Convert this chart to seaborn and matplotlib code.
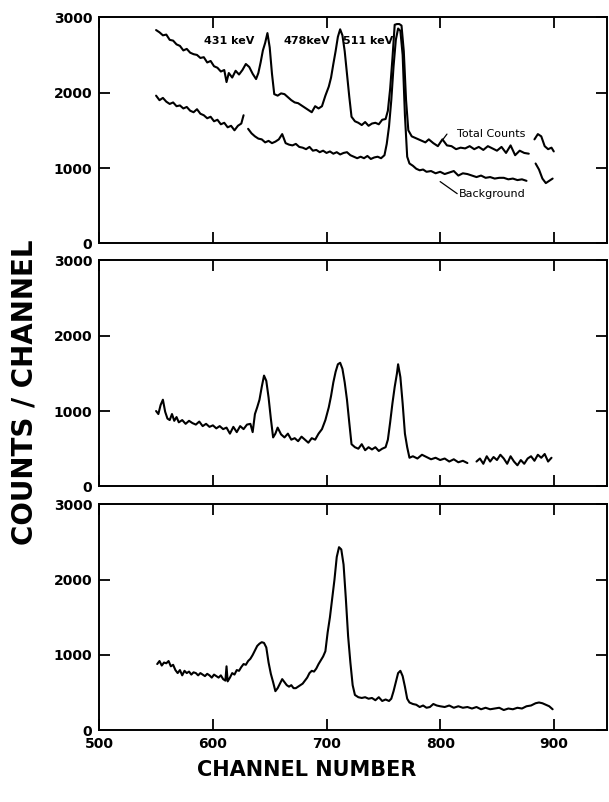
import numpy as np
import pandas as pd
import matplotlib
matplotlib.use("Agg")
import matplotlib.pyplot as plt
import seaborn as sns

NAN = np.nan

# ---- Panel 1: total counts ----
total_ch = [550, 553, 556, 559, 562, 565, 568, 571, 574, 577, 580, 583, 586, 589, 592, 595, 598, 601, 604, 607,
            610, 612, 614, 617, 620, 623, 626, 629, 632, 635, 638, 640, 642, 644, 646, 648, 650, 652, 654, 657,
            660, 663, 666, 669, 672, 675, 678, 681, 684, 687, 690, 693, 696, 699, 702, 704, 706, 708, 710, 712,
            714, 716, 718, 720, 722, 725, 728, 731, 734, 737, 740, 743, 746, 749, 752, 754, 756, 758, 760, 762,
            764, 766, 768, 770, 772, 775, 778, 781, 784, 787, 790, 794, 798, 802, 806, 810, 814, 818, 822, 826,
            830, 834, 838, 842, 846, 850, 854, 858, 862, 866, 870, 874, 878, 880, 883, 886, 889, 892, 895, 898, 900]
total_counts = [2830, 2800, 2760, 2770, 2700, 2690, 2640, 2620, 2560, 2580, 2530, 2510, 2500, 2460, 2470, 2400, 2420, 2350, 2330, 2280,
                2300, 2140, 2260, 2200, 2290, 2240, 2300, 2380, 2340, 2250, 2180, 2260, 2400, 2560, 2660, 2790, 2600, 2250, 1980, 1960,
                1990, 1980, 1940, 1900, 1870, 1860, 1830, 1800, 1770, 1740, 1820, 1790, 1820, 1960, 2080, 2200, 2380, 2550, 2740, 2840,
                2760, 2550, 2250, 1950, 1680, 1620, 1600, 1570, 1610, 1560, 1590, 1600, 1580, 1640, 1650, 1760, 2050, 2450, 2900, 2910,
                2910, 2890, 2550, 1900, 1500, 1420, 1400, 1380, 1360, 1340, 1380, 1330, 1290, 1380, 1300, 1290, 1250, 1270, 1260, 1290,
                1250, 1280, 1240, 1290, 1260, 1230, 1280, 1200, 1300, 1170, 1230, 1200, 1190, NAN, 1380, 1450, 1420, 1290, 1250, 1270, 1220]

# ---- Panel 1: background ----
bkg_ch = [550, 553, 556, 559, 562, 565, 568, 571, 574, 577, 580, 583, 586, 589, 592, 595, 598, 601, 604, 607,
          610, 613, 616, 619, 622, 625, 627, 629, 631, 634, 637, 640, 643, 646, 649, 652, 655, 658, 661, 664,
          667, 670, 673, 676, 679, 682, 685, 688, 691, 694, 697, 700, 703, 706, 709, 712, 715, 718, 721, 724,
          727, 730, 733, 736, 739, 742, 745, 748, 751, 753, 755, 757, 759, 761, 763, 765, 767, 769, 771, 773,
          776, 779, 782, 785, 788, 792, 796, 800, 804, 808, 812, 816, 820, 824, 828, 832, 836, 840, 844, 848,
          852, 856, 860, 864, 868, 872, 876, 880, 884, 887, 890, 893, 896, 899]
bkg_counts = [1960, 1900, 1930, 1880, 1850, 1870, 1820, 1830, 1790, 1810, 1760, 1740, 1780, 1720, 1700, 1660, 1680, 1620, 1640, 1580,
              1600, 1540, 1560, 1500, 1560, 1590, 1700, NAN, 1520, 1460, 1420, 1390, 1380, 1340, 1360, 1330, 1350, 1380, 1450, 1330,
              1310, 1300, 1320, 1280, 1270, 1250, 1280, 1230, 1240, 1210, 1230, 1200, 1220, 1190, 1210, 1180, 1200, 1210, 1170, 1150,
              1130, 1150, 1130, 1160, 1120, 1140, 1150, 1130, 1170, 1320, 1550, 1900, 2350, 2700, 2850, 2820, 2500, 1700, 1150, 1060,
              1030, 990, 970, 980, 950, 960, 930, 950, 920, 940, 960, 900, 930, 920, 900, 880, 900, 870, 880, 860,
              870, 870, 850, 860, 840, 850, 830, NAN, 1060, 980, 860, 800, 830, 860]

# ---- Panel 2 ----
p2_ch = [550, 552, 554, 556, 558, 560, 562, 564, 566, 568, 570, 573, 576, 579, 582, 585, 588, 591, 594, 597,
         600, 603, 606, 609, 612, 615, 618, 621, 624, 627, 630, 633, 635, 637, 639, 641, 643, 645, 647, 649,
         651, 653, 655, 657, 660, 663, 666, 669, 672, 675, 678, 681, 684, 687, 690, 693, 696, 699, 702, 704,
         706, 708, 710, 712, 714, 716, 718, 720, 722, 725, 728, 731, 734, 737, 740, 743, 746, 749, 752, 754,
         756, 758, 760, 762, 763, 765, 767, 769, 771, 773, 776, 780, 784, 788, 792, 796, 800, 804, 808, 812,
         816, 820, 824, 828, 832, 835, 838, 841, 844, 847, 850, 853, 856, 859, 862, 865, 868, 871, 874, 877,
         880, 883, 886, 889, 892, 895, 898]
p2_counts = [1000, 960, 1080, 1150, 990, 900, 880, 960, 870, 920, 850, 880, 830, 870, 840, 820, 860, 800, 830, 790,
             810, 770, 800, 760, 780, 700, 790, 720, 800, 760, 820, 830, 720, 960, 1050, 1150, 1320, 1470, 1400, 1180,
             900, 650, 700, 780, 690, 650, 700, 620, 640, 600, 660, 620, 580, 640, 620, 700, 760, 880, 1050, 1200,
             1380, 1520, 1620, 1640, 1560, 1380, 1150, 850, 560, 520, 500, 560, 480, 520, 490, 520, 470, 500, 520, 620,
             850, 1100, 1320, 1500, 1620, 1450, 1100, 700, 520, 380, 400, 370, 420, 390, 360, 380, 350, 370, 330, 360,
             320, 340, 310, NAN, 330, 370, 300, 400, 330, 390, 350, 420, 370, 300, 400, 330, 280, 350, 300, 370,
             400, 340, 420, 380, 430, 330, 380]

# ---- Panel 3 ----
p3_ch = [551, 553, 555, 557, 559, 561, 563, 565, 567, 569, 571, 573, 575, 577, 579, 581, 583, 585, 587, 589,
         591, 593, 595, 597, 599, 601, 603, 605, 607, 609, 611, 612, 613, 615, 617, 619, 621, 623, 625, 627,
         629, 631, 633, 635, 637, 639, 641, 643, 645, 647, 649, 651, 653, 655, 657, 659, 661, 663, 665, 667,
         669, 671, 673, 675, 677, 679, 681, 683, 685, 687, 689, 691, 693, 695, 697, 699, 701, 703, 705, 707,
         709, 711, 713, 715, 717, 719, 721, 723, 725, 728, 731, 734, 737, 740, 743, 746, 749, 752, 755, 757,
         759, 761, 763, 765, 767, 769, 771, 773, 776, 779, 782, 785, 788, 791, 794, 797, 800, 804, 808, 812,
         816, 820, 824, 828, 832, 836, 840, 844, 848, 852, 856, 860, 864, 868, 872, 876, 880, 884, 887, 890,
         893, 896, 899]
p3_counts = [880, 920, 860, 900, 890, 920, 850, 870, 800, 760, 800, 730, 790, 760, 780, 740, 770, 760, 730, 760,
             740, 720, 750, 730, 700, 740, 720, 700, 730, 680, 660, 850, 650, 700, 760, 740, 800, 790, 840, 880,
             870, 920, 950, 1000, 1060, 1120, 1150, 1170, 1160, 1100, 900, 750, 640, 520, 560, 620, 680, 640, 600, 580,
             600, 560, 560, 580, 600, 620, 660, 700, 760, 790, 780, 820, 880, 930, 980, 1050, 1300, 1500, 1750, 2000,
             2300, 2430, 2400, 2200, 1750, 1250, 900, 600, 470, 440, 430, 440, 420, 430, 400, 440, 390, 410, 390, 420,
             520, 640, 760, 790, 720, 580, 420, 370, 350, 340, 310, 330, 300, 310, 350, 330, 320, 310, 330, 300,
             320, 300, 310, 290, 310, 280, 300, 280, 290, 300, 270, 290, 280, 300, 290, 320, 330, 360, 370, 360,
             340, 320, 280]

x_ticks = [500, 600, 700, 800, 900]
y_ticks = [0, 1000, 2000, 3000]


def to_frame(ch, counts):
    df = pd.DataFrame({"channel": ch, "counts": counts})
    df["seg"] = df["counts"].isna().cumsum()
    return df.dropna()


sns.set_theme(style="white")
plt.rcParams["font.family"] = ["DejaVu Sans"]
plt.rcParams["text.color"] = "black"

fig = plt.figure(figsize=(6.09, 8.02), dpi=100)
left, width, height = 0.163, 0.834, 0.282
bottoms = [0.6965, 0.3935, 0.0893]
axes = [fig.add_axes([left, b, width, height]) for b in bottoms]

curves = [
    [(total_ch, total_counts), (bkg_ch, bkg_counts)],
    [(p2_ch, p2_counts)],
    [(p3_ch, p3_counts)],
]

for i, ax in enumerate(axes):
    for ch, cnt in curves[i]:
        df = to_frame(ch, cnt)
        sns.lineplot(data=df, x="channel", y="counts", units="seg", estimator=None,
                     sort=False, color="black", lw=1.5, ax=ax)
    ax.set_xlim(500, 947)
    ax.set_ylim(0, 3000)
    ax.set_xticks(x_ticks)
    ax.set_yticks(y_ticks)
    ax.set_xlabel("")
    ax.set_ylabel("")
    ax.tick_params(direction="in", length=8, width=1.3, top=True, right=True,
                   bottom=True, left=True, colors="black", labelsize=10, pad=5)
    for lab in ax.get_yticklabels():
        lab.set_fontweight("bold")
    if i < 2:
        ax.tick_params(labelbottom=False)
    else:
        for lab in ax.get_xticklabels():
            lab.set_fontweight("bold")
    for sp in ax.spines.values():
        sp.set_color("black")
        sp.set_linewidth(1.4)
        sp.set_visible(True)
    ax.set_facecolor("white")

ax1 = axes[0]
ax1.text(614, 2690, "431 keV", ha="center", va="center", fontsize=8, fontweight="bold", color="black")
ax1.text(683, 2690, "478keV", ha="center", va="center", fontsize=8, fontweight="bold", color="black")
ax1.text(737, 2690, "511 keV", ha="center", va="center", fontsize=8, fontweight="bold", color="black")
ax1.text(845, 1450, "Total Counts", ha="center", va="center", fontsize=8, color="black")
ax1.text(846, 650, "Background", ha="center", va="center", fontsize=8, color="black")
ax1.plot([802, 806], [1370, 1450], color="black", lw=0.9)
ax1.plot([800, 815], [820, 660], color="black", lw=0.9)

fig.text(0.040, 0.511, "COUNTS / CHANNEL", rotation=90, ha="center", va="center",
         fontsize=20, fontweight="bold", color="black")
fig.text(0.504, 0.040, "CHANNEL NUMBER", ha="center", va="center",
         fontsize=15, fontweight="bold", color="black")

fig.savefig("out.png", dpi=100, facecolor="white")
